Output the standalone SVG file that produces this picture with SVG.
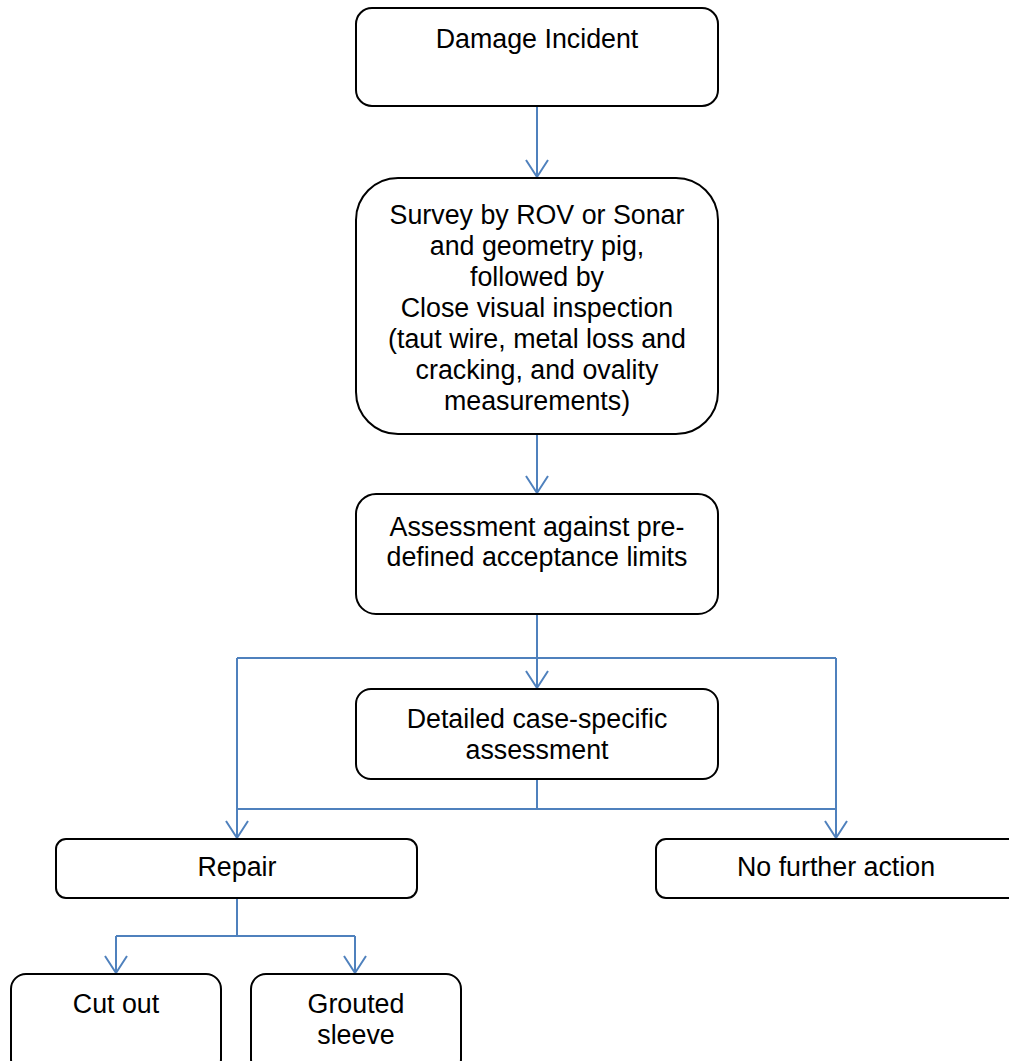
<svg xmlns="http://www.w3.org/2000/svg" width="1009" height="1061" viewBox="0 0 1009 1061">
<style>
.box{fill:#fff;stroke:#000;stroke-width:2}
.t{font-family:"Liberation Sans",Arial,sans-serif;font-size:26.8px;fill:#000;text-anchor:middle}
.c{fill:none;stroke:#4F81BD;stroke-width:2}
</style>
<defs>
<marker id="ah" markerUnits="userSpaceOnUse" markerWidth="40" markerHeight="40" refX="0" refY="0" orient="auto" overflow="visible">
<path d="M-17,-11 L0,0 L-17,11" fill="none" stroke="#4F81BD" stroke-width="2"/>
</marker>
</defs>
<rect width="1009" height="1061" fill="#fff"/>
<g id="connectors">
<path class="c" d="M537,106 V177" marker-end="url(#ah)"/>
<path class="c" d="M537,434 V493" marker-end="url(#ah)"/>
<path class="c" d="M537,614 V688" marker-end="url(#ah)"/>
<path class="c" d="M237,658 H836"/>
<path class="c" d="M237,658 V838" marker-end="url(#ah)"/>
<path class="c" d="M836,658 V838" marker-end="url(#ah)"/>
<path class="c" d="M537,779 V809 M237,809 H836"/>
<path class="c" d="M237,898 V936 M116,936 H355"/>
<path class="c" d="M116,936 V973" marker-end="url(#ah)"/>
<path class="c" d="M355,936 V973" marker-end="url(#ah)"/>
</g>
<g id="damage">
<rect class="box" x="356" y="8" width="362" height="98" rx="16"/>
<text class="t" x="537" y="48">Damage Incident</text>
</g>
<g id="survey">
<rect class="box" x="356" y="178" width="362" height="256" rx="42"/>
<text class="t" x="537" y="224">Survey by ROV or Sonar</text>
<text class="t" x="537" y="255">and geometry pig,</text>
<text class="t" x="537" y="286">followed by</text>
<text class="t" x="537" y="317">Close visual inspection</text>
<text class="t" x="537" y="348">(taut wire, metal loss and</text>
<text class="t" x="537" y="379">cracking, and ovality</text>
<text class="t" x="537" y="410">measurements)</text>
</g>
<g id="assessment">
<rect class="box" x="356" y="494" width="362" height="120" rx="20"/>
<text class="t" x="537" y="536">Assessment against pre-</text>
<text class="t" x="537" y="566">defined acceptance limits</text>
</g>
<g id="detailed">
<rect class="box" x="356" y="689" width="362" height="90" rx="15"/>
<text class="t" x="537" y="728">Detailed case-specific</text>
<text class="t" x="537" y="759">assessment</text>
</g>
<g id="repair">
<rect class="box" x="56" y="839" width="361" height="59" rx="10"/>
<text class="t" x="237" y="876">Repair</text>
</g>
<g id="nofurther">
<rect class="box" x="656" y="839" width="365" height="59" rx="10"/>
<text class="t" x="836" y="876">No further action</text>
</g>
<g id="cutout">
<rect class="box" x="11" y="974" width="210" height="100" rx="15"/>
<text class="t" x="116" y="1013">Cut out</text>
</g>
<g id="grouted">
<rect class="box" x="251" y="974" width="210" height="100" rx="15"/>
<text class="t" x="356" y="1013">Grouted</text>
<text class="t" x="356" y="1044">sleeve</text>
</g>
</svg>
